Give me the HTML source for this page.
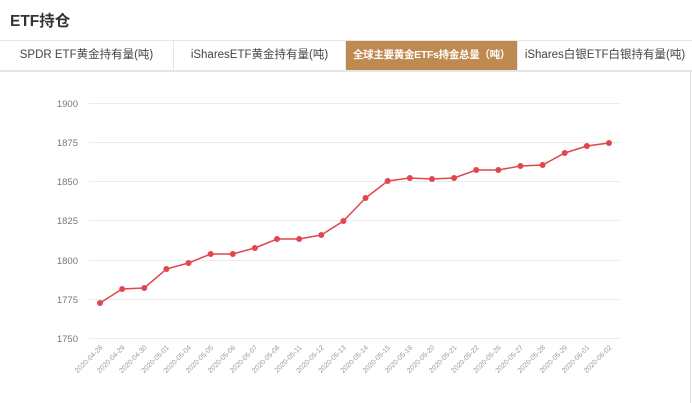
<!DOCTYPE html>
<html><head><meta charset="utf-8"><style>
body{margin:0;width:692px;height:403px;background:#fff;overflow:hidden;font-family:"Liberation Sans","Noto Sans CJK SC",sans-serif;position:relative}
.t{position:absolute;left:10px;top:9px;font-size:15.5px;font-weight:bold;color:#333}
.tabs{position:absolute;left:0;top:40px;width:692px;height:29px;border-top:1px solid #e6e6e6;border-bottom:2px solid #e6e6e6;display:flex}
.tabs div{height:29px;line-height:29px;text-align:center;font-size:11.5px;color:#444;border-right:1px solid #e6e6e6;box-sizing:border-box;white-space:nowrap;overflow:hidden}
.tabs .a{background:#bf8a52;color:#fff;font-weight:bold;font-size:10.5px;letter-spacing:-0.3px;padding:0}
.rb{position:absolute;right:1px;top:70px;width:1px;height:333px;background:#e4e4e4}
</style></head><body>
<div class="t">ETF持仓</div>
<div class="tabs"><div style="width:174px">SPDR ETF黄金持有量(吨)</div><div style="width:172px">iSharesETF黄金持有量(吨)</div><div class="a" style="width:172px">全球主要黄金ETFs持金总量（吨）</div><div style="width:174px;border:none">iShares白银ETF白银持有量(吨)</div></div>
<div class="rb"></div>
<svg width="692" height="403" style="position:absolute;left:0;top:0" font-family="Liberation Sans, sans-serif">
<g stroke="#ececec" stroke-width="1">
<line x1="89" x2="620" y1="103.5" y2="103.5"/><line x1="89" x2="620" y1="142.5" y2="142.5"/><line x1="89" x2="620" y1="181.5" y2="181.5"/><line x1="89" x2="620" y1="220.5" y2="220.5"/><line x1="89" x2="620" y1="260.5" y2="260.5"/><line x1="89" x2="620" y1="299.5" y2="299.5"/><line x1="89" x2="620" y1="338.5" y2="338.5"/>
</g>
<g font-size="9.5" fill="#777" text-anchor="end">
<text x="78" y="107">1900</text><text x="78" y="146">1875</text><text x="78" y="185">1850</text><text x="78" y="224">1825</text><text x="78" y="264">1800</text><text x="78" y="303">1775</text><text x="78" y="342">1750</text>
</g>
<g id="lbl" font-size="7" fill="#999" text-anchor="end"></g>
<polyline id="ln" fill="none" stroke="#e0474f" stroke-width="1.5"/>
<g id="pts" fill="#e0474f"></g>
</svg>
<script>
var d=["04-28","04-29","04-30","05-01","05-04","05-05","05-06","05-07","05-08","05-11","05-12","05-13","05-14","05-15","05-18","05-20","05-21","05-22","05-26","05-27","05-28","05-29","06-01","06-02"];
var y=[303,289,288,269,263,254,254,248,239,239,235,221,198,181,178,179,178,170,170,166,165,153,146,143];
var ns="http://www.w3.org/2000/svg",p=[],L=document.getElementById("lbl"),P=document.getElementById("pts");
for(var i=0;i<24;i++){var x=100+i*22.13;p.push(x+","+y[i]);
var c=document.createElementNS(ns,"circle");c.setAttribute("cx",x);c.setAttribute("cy",y[i]);c.setAttribute("r",3);P.appendChild(c);
var t=document.createElementNS(ns,"text");t.setAttribute("transform","translate("+(x+3)+",348) rotate(-45)");t.textContent="2020-"+d[i];L.appendChild(t);}
document.getElementById("ln").setAttribute("points",p.join(" "));
</script>
</body></html>
